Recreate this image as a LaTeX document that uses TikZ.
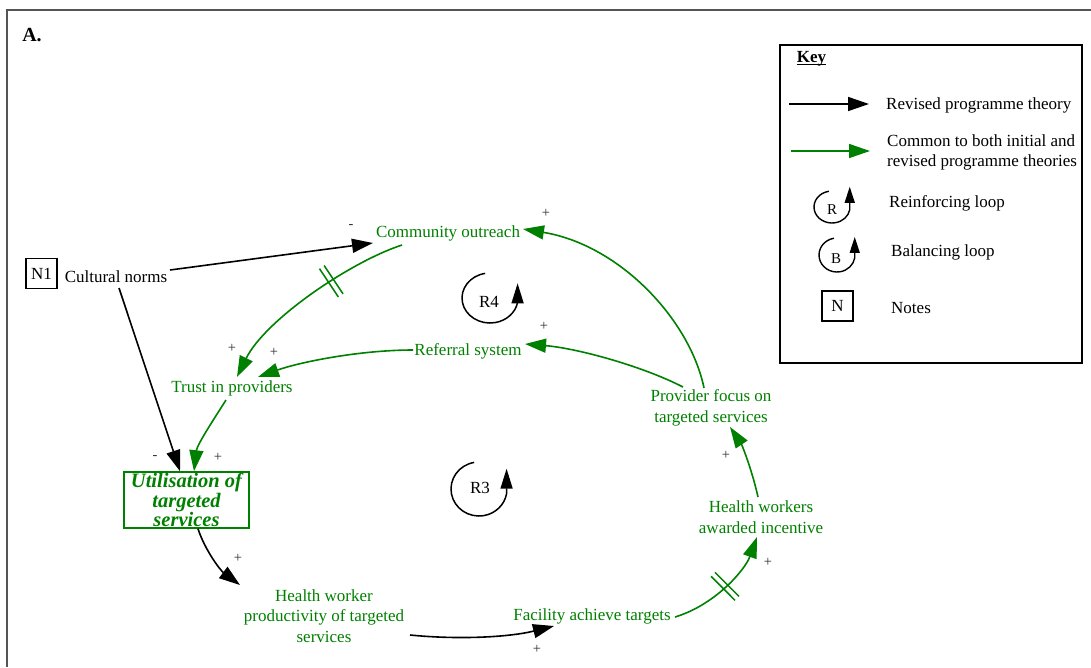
\documentclass[tikz,border=0pt]{standalone}
\usepackage{fontspec}
\setmainfont{Liberation Serif}
\usetikzlibrary{arrows.meta,decorations.markings,calc}
\definecolor{cldgreen}{RGB}{0,128,0}
\definecolor{framegray}{RGB}{85,85,85}
\definecolor{signgray}{RGB}{45,45,45}
\begin{document}
\begin{tikzpicture}[x=1pt,y=1pt,
  every node/.style={inner sep=0pt, font=\fontsize{17}{20.5}\selectfont},
  var/.style={text=cldgreen, align=center},
  blk/.style={text=black, align=center},
  link/.style={line width=1.6pt, draw=black, -{Triangle[length=21pt,width=14pt]}},
  glink/.style={link, draw=cldgreen},
  pol/.style={text=signgray, font=\fontsize{14.5}{14.5}\selectfont},
  delaymark/.style={postaction={decorate, decoration={markings,
      mark=at position #1 with {\draw[-, draw=cldgreen, line width=1.5pt]
        (-2.8pt,-17pt) -- (-2.8pt,17pt) (2.8pt,-17pt) -- (2.8pt,17pt);}}}},
  loopline/.style={line width=1.5pt, -{Triangle[length=20pt,width=12pt]}},
  keyloop/.style={line width=1.4pt, -{Triangle[length=16pt,width=10pt]}},
  notebox/.style={draw, line width=1.4pt, minimum width=31pt, minimum height=30pt},
  keytext/.style={anchor=west, align=left}
]
\useasboundingbox (0,0) rectangle (1091,-667);

% outer frame (open on the right and at the bottom)
\draw[framegray, line width=2.2pt] (7,-667) -- (7,-10) -- (1091,-10);

% panel label
\node[font=\fontsize{20}{22}\selectfont\bfseries] (panel) at (32,-35) {A.};

% ---------- variables ----------
\node[notebox] (n1) at (41.5,-273.5) {N1};
\node[blk] (cult) at (116,-277) {Cultural norms};
\node[var] (comm) at (448,-233) {Community outreach};
\node[var] (trust) at (232,-388) {Trust in providers};
\node[var] (refer) at (468,-351) {Referral system};
\node[draw=cldgreen, line width=1.6pt, minimum width=125pt, minimum height=56pt,
      text=cldgreen, align=center,
      font=\fontsize{20.5}{16.5}\selectfont\bfseries\itshape] (util) at (186.5,-500)
      {Utilisation of\\targeted\\services};
\node[var] (prov) at (711,-408) {Provider focus on\\targeted services};
\node[var] (hwa) at (761,-517) {Health workers\\awarded incentive};
\node[var] (fac) at (592,-616) {Facility achieve targets};
\node[var] (hwp) at (324,-616) {Health worker\\productivity of targeted\\services};

% ---------- links ----------
\draw[link] ([shift={(54,7)}]cult.center) -- ([shift={(-75,-10)}]comm.center);
\draw[link] ([shift={(3,-11)}]cult.center) -- ([shift={(-6.5,0)}]util.north);
\draw[glink, delaymark=0.37] ([shift={(-46,-12)}]comm.center)
   .. controls (350,-262) and (265,-320) .. ([shift={(5,11)}]trust.center);
\draw[glink] ([shift={(-55,1)}]refer.center)
   .. controls (360,-350) and (300,-362) .. ([shift={(26,11)}]trust.center);
\draw[glink] ([shift={(-6,-12)}]trust.center)
   .. controls (212,-422) and (197,-445) .. ([shift={(7.5,0)}]util.north);
\draw[glink] ([shift={(-7,20)}]prov.center)
   .. controls (690,-320) and (620,-245) .. ([shift={(75,4)}]comm.center);
\draw[glink] ([shift={(-28,21)}]prov.center)
   .. controls (640,-365) and (575,-348) .. ([shift={(57,7)}]refer.center);
\draw[glink] ([shift={(-3,20)}]hwa.center)
   .. controls (752,-470) and (742,-445) .. ([shift={(19,-19)}]prov.center);
\draw[glink, delaymark=0.5] ([shift={(83,-1)}]fac.center)
   .. controls (715,-605) and (745,-570) .. ([shift={(-4,-20)}]hwa.center);
\draw[link] ([shift={(11.5,0)}]util.south)
   .. controls (205,-550) and (220,-570) .. ([shift={(-84,31)}]hwp.center);
\draw[link] ([shift={(86,-19)}]hwp.center)
   .. controls (460,-640) and (510,-637) .. ([shift={(-38,-10)}]fac.center);

% ---------- polarities ----------
\node[pol] (p1) at (351,-227) {-};
\node[pol] (p2) at (155,-458) {-};
\node[pol] (p3) at (232,-348) {+};
\node[pol] (p4) at (274,-352) {+};
\node[pol] (p5) at (218,-457) {+};
\node[pol] (p6) at (546,-213) {+};
\node[pol] (p7) at (544,-326) {+};
\node[pol] (p8) at (726,-455) {+};
\node[pol] (p9) at (768,-562) {+};
\node[pol] (p10) at (238,-558) {+};
\node[pol] (p11) at (537,-649) {+};

% ---------- loop markers ----------
\node (r4) at (489,-302) {R4};
\draw[loopline] (490,-298) ++(100:28 and 25) arc[start angle=100, end angle=350,
   x radius=28, y radius=25] -- ++(0,19);
\node (r3) at (480,-488) {R3};
\draw[loopline] (479,-489) ++(100:28 and 27) arc[start angle=100, end angle=350,
   x radius=28, y radius=27] -- ++(0,25);

% ---------- key ----------
\draw[line width=1.4pt] (780,-45) rectangle (1082,-363);
\node[font=\fontsize{17}{20}\selectfont\bfseries] (key) at (811.5,-59) {Key};
\draw[line width=1pt] ([yshift=-1.5pt]key.base west) -- ([yshift=-1.5pt]key.base east);

\coordinate (k1a) at (789,-104);
\coordinate (k1b) at (869,-104);
\draw[link] (k1a) -- (k1b);
\node[keytext] (k1t) at (886,-105) {Revised programme theory};

\coordinate (k2a) at (791,-151);
\coordinate (k2b) at (870,-151);
\draw[glink] (k2a) -- (k2b);
\node[keytext] (k2t) at (887,-152.5) {Common to both initial and\\revised programme theories};

\node[font=\fontsize{15}{15}\selectfont] (kr) at (832,-210) {R};
\draw[keyloop] (832,-207) ++(100:18 and 16) arc[start angle=100, end angle=350,
   x radius=18 , y radius=16] -- ++(0,23);
\node[keytext] (k3t) at (889,-203) {Reinforcing loop};

\node[font=\fontsize{15}{15}\selectfont] (kb) at (836,-259) {B};
\draw[keyloop] (837,-255) ++(100:18 and 17) arc[start angle=100, end angle=350,
   x radius=18, y radius=17] -- ++(0,21);
\node[keytext] (k4t) at (891,-252) {Balancing loop};

\node[notebox] (kn) at (837.5,-306) {N};
\node[keytext] (k5t) at (891,-308) {Notes};
\end{tikzpicture}
\end{document}
